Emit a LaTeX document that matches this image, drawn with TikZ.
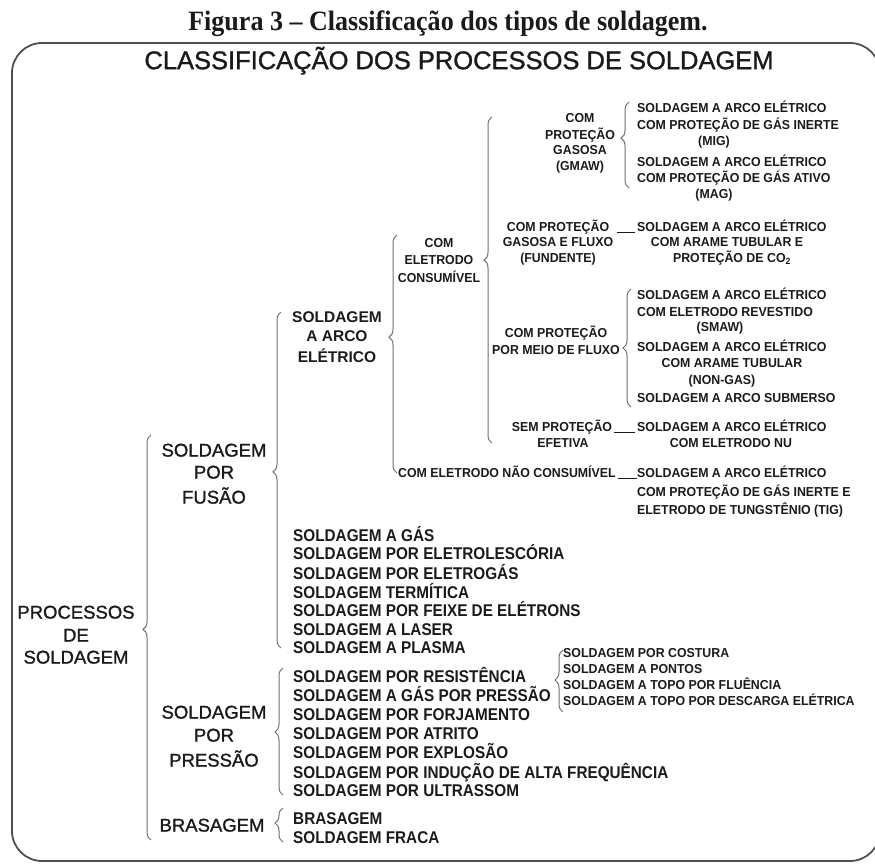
\documentclass[tikz,border=0pt]{standalone}
\usepackage{fontspec}
\setmainfont{Liberation Sans}
\newfontfamily\serifB[FakeStretch=0.93]{Liberation Serif}
\newfontfamily\semiB[FakeBold=1.2]{Liberation Sans}
\newfontfamily\narrowA[FakeStretch=0.9]{Liberation Sans}
\newfontfamily\narrowB[FakeStretch=0.95]{Liberation Sans}
\usetikzlibrary{decorations.pathreplacing}
\definecolor{ink}{HTML}{1A1A1A}
\definecolor{bracec}{HTML}{707070}
\definecolor{framec}{HTML}{505050}
\begin{document}
\begin{tikzpicture}[x=1pt,y=-1pt,
  txt/.style={inner sep=0pt, text=ink, text depth=0pt},
  titlef/.style={txt, font=\serifB\bfseries\fontsize{28}{28}\selectfont, text height=18.5pt},
  head/.style={txt, font=\semiB\fontsize{25.5}{25.5}\selectfont, text height=18.3pt},
  big/.style={txt, font=\semiB\fontsize{18.5}{18.5}\selectfont, text height=13.2pt},
  mid/.style={txt, font=\bfseries\fontsize{15.5}{15.5}\selectfont, text height=11.1pt},
  lst/.style={txt, anchor=west, font=\narrowA\bfseries\fontsize{17}{17}\selectfont, text height=12.2pt},
  sm/.style={txt, font=\narrowB\bfseries\fontsize{13}{13}\selectfont, text height=9.3pt},
  smw/.style={sm, anchor=west},
  curly/.style={draw=bracec, line width=1pt, decorate, decoration={brace, amplitude=8pt, aspect=#1}},
  curly/.default=0.5,
  dash line/.style={draw=ink, line width=0.9pt}
]
\useasboundingbox (0,0) rectangle (875,864);
\draw[framec, line width=1.8pt, rounded corners=30pt] (12,43) rectangle (880,861);

\node[titlef] (title) at (448,21) {Figura 3 – Classificação dos tipos de soldagem.};
\node[head] (heading) at (459,60) {CLASSIFICAÇÃO DOS PROCESSOS DE SOLDAGEM};

% root
\node[big] (p1) at (76,612) {PROCESSOS};
\node[big] (p2) at (76,635) {DE};
\node[big] (p3) at (76,657) {SOLDAGEM};

% level 1 labels
\node[big] (f1) at (214,450) {SOLDAGEM};
\node[big] (f2) at (214,472) {POR};
\node[big] (f3) at (214,497) {FUSÃO};
\node[big] (r1) at (214,712) {SOLDAGEM};
\node[big] (r2) at (214,735) {POR};
\node[big] (r3) at (214,760) {PRESSÃO};
\node[big] (bz) at (212,825) {BRASAGEM};

% arc label
\node[mid] (a1) at (337,317) {SOLDAGEM};
\node[mid] (a2) at (337,336) {A ARCO};
\node[mid] (a3) at (337,357) {ELÉTRICO};

% consumivel
\node[sm] (c1) at (439,243) {COM};
\node[sm] (c2) at (439,260) {ELETRODO};
\node[sm] (c3) at (439,278) {CONSUMÍVEL};

% gasosa
\node[sm] (g1) at (580,118) {COM};
\node[sm] (g2) at (580,135) {PROTEÇÃO};
\node[sm] (g3) at (580,150) {GASOSA};
\node[sm] (g4) at (580,166) {(GMAW)};
\node[smw] (gm1) at (637,108) {SOLDAGEM A ARCO ELÉTRICO};
\node[smw] (gm2) at (637,125) {COM PROTEÇÃO DE GÁS INERTE};
\node[sm]  (gm3) at (714,141) {(MIG)};
\node[smw] (ga1) at (637,162) {SOLDAGEM A ARCO ELÉTRICO};
\node[smw] (ga2) at (637,178) {COM PROTEÇÃO DE GÁS ATIVO};
\node[sm]  (ga3) at (714,194) {(MAG)};

% gasosa e fluxo
\node[sm] (gf1) at (558,227) {COM PROTEÇÃO};
\node[sm] (gf2) at (558,242) {GASOSA E FLUXO};
\node[sm] (gf3) at (558,258) {(FUNDENTE)};
\node[smw] (t1) at (637,227) {SOLDAGEM A ARCO ELÉTRICO};
\node[sm]  (t2) at (727,242) {COM ARAME TUBULAR E};
\node[sm]  (t3) at (732,258) {PROTEÇÃO DE CO\textsubscript{2}};

% fluxo
\node[sm] (fx1) at (556,333) {COM PROTEÇÃO};
\node[sm] (fx2) at (556,350) {POR MEIO DE FLUXO};
\node[smw] (s1) at (637,295) {SOLDAGEM A ARCO ELÉTRICO};
\node[smw] (s2) at (637,312) {COM ELETRODO REVESTIDO};
\node[sm]  (s3) at (720,327) {(SMAW)};
\node[smw] (n1) at (637,347) {SOLDAGEM A ARCO ELÉTRICO};
\node[sm]  (n2) at (732,363) {COM ARAME TUBULAR};
\node[sm]  (n3) at (722,380) {(NON-GAS)};
\node[smw] (sa) at (637,398) {SOLDAGEM A ARCO SUBMERSO};

% sem protecao
\node[sm] (sp1) at (562,427) {SEM PROTEÇÃO};
\node[sm] (sp2) at (563,443) {EFETIVA};
\node[smw] (nu1) at (637,427) {SOLDAGEM A ARCO ELÉTRICO};
\node[sm]  (nu2) at (731,443) {COM ELETRODO NU};

% nao consumivel
\node[smw] (nc) at (398,473) {COM ELETRODO NÃO CONSUMÍVEL};
\node[smw] (tg1) at (637,473) {SOLDAGEM A ARCO ELÉTRICO};
\node[smw] (tg2) at (637,492) {COM PROTEÇÃO DE GÁS INERTE E};
\node[smw] (tg3) at (637,510) {ELETRODO DE TUNGSTÊNIO (TIG)};

% fusao list
\node[lst] (l1) at (293,535) {SOLDAGEM A GÁS};
\node[lst] (l2) at (293,553) {SOLDAGEM POR ELETROLESCÓRIA};
\node[lst] (l3) at (293,573) {SOLDAGEM POR ELETROGÁS};
\node[lst] (l4) at (293,592) {SOLDAGEM TERMÍTICA};
\node[lst] (l5) at (293,610) {SOLDAGEM POR FEIXE DE ELÉTRONS};
\node[lst] (l6) at (293,629) {SOLDAGEM A LASER};
\node[lst] (l7) at (293,647) {SOLDAGEM A PLASMA};

% pressao list
\node[lst] (q1) at (293,676) {SOLDAGEM POR RESISTÊNCIA};
\node[lst] (q2) at (293,695) {SOLDAGEM A GÁS POR PRESSÃO};
\node[lst] (q3) at (293,714) {SOLDAGEM POR FORJAMENTO};
\node[lst] (q4) at (293,733) {SOLDAGEM POR ATRITO};
\node[lst] (q5) at (293,752) {SOLDAGEM POR EXPLOSÃO};
\node[lst] (q6) at (293,772) {SOLDAGEM POR INDUÇÃO DE ALTA FREQUÊNCIA};
\node[lst] (q7) at (293,790) {SOLDAGEM POR ULTRASSOM};

% resistencia sub list
\node[smw] (rs1) at (563,653) {SOLDAGEM POR COSTURA};
\node[smw] (rs2) at (563,669) {SOLDAGEM A PONTOS};
\node[smw] (rs3) at (563,685) {SOLDAGEM A TOPO POR FLUÊNCIA};
\node[smw] (rs4) at (563,701) {SOLDAGEM A TOPO POR DESCARGA ELÉTRICA};

% brasagem list
\node[lst] (bb1) at (293,818) {BRASAGEM};
\node[lst] (bb2) at (293,837) {SOLDAGEM FRACA};

% braces (start = bottom, end = top)
\coordinate (B1s) at (151,840); \coordinate (B1e) at (151,435);
\coordinate (B2s) at (281,648); \coordinate (B2e) at (281,312);
\coordinate (B3s) at (397,473); \coordinate (B3e) at (397,235);
\coordinate (B4s) at (492,443); \coordinate (B4e) at (492,117);
\coordinate (B5s) at (629,188); \coordinate (B5e) at (629,102);
\coordinate (B6s) at (631,407); \coordinate (B6e) at (631,289);
\coordinate (B7s) at (563,712); \coordinate (B7e) at (563,650);
\coordinate (B8s) at (283,795); \coordinate (B8e) at (283,668);
\coordinate (B9s) at (283,842); \coordinate (B9e) at (283,808);
\draw[curly=0.52]  (B1s) -- (B1e);
\draw[curly=0.524] (B2s) -- (B2e);
\draw[curly=0.571] (B3s) -- (B3e);
\draw[curly=0.561] (B4s) -- (B4e);
\draw[curly=0.58]  (B5s) -- (B5e);
\draw[curly=0.5]   (B6s) -- (B6e);
\draw[curly=0.516] (B7s) -- (B7e);
\draw[curly=0.496] (B8s) -- (B8e);
\draw[curly=0.56]  (B9s) -- (B9e);

% underscores
\coordinate (U1a) at (617,232); \coordinate (U1b) at (635,232);
\coordinate (U2a) at (614,432); \coordinate (U2b) at (635,432);
\coordinate (U3a) at (618,478); \coordinate (U3b) at (637,478);
\draw[dash line] (U1a) -- (U1b);
\draw[dash line] (U2a) -- (U2b);
\draw[dash line] (U3a) -- (U3b);
\end{tikzpicture}
\end{document}
